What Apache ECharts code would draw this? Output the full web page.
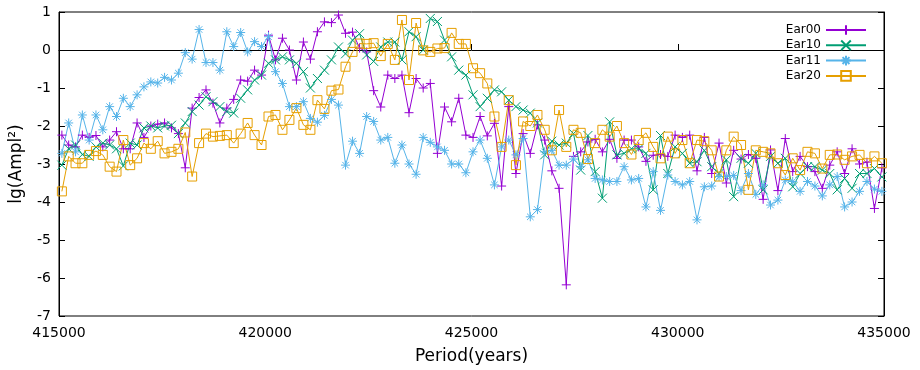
<!DOCTYPE html>
<html>
<head>
<meta charset="utf-8">
<script src="https://cdn.jsdelivr.net/npm/echarts@6/dist/echarts.min.js"></script>
<style>html,body{margin:0;padding:0;background:#fff}#chart{width:920px;height:370px}</style>
</head>
<body>
<div id="chart"></div>
<script>
// Periods (years) of the sampled points
const periods = [
415070,415235,415401,415566,415731,415896,416062,416228,416394,416560,
416726,416893,417059,417226,417393,417559,417727,417894,418061,418228,
418396,418564,418732,418900,419068,419235,419404,419573,419741,419910,
420079,420248,420417,420586,420756,420925,421095,421265,421435,421605,
421775,421946,422116,422287,422458,422628,422800,422971,423142,423314,
423485,423657,423829,424001,424174,424346,424518,424691,424864,425037,
425209,425383,425556,425730,425903,426077,426251,426425,426599,426774,
426948,427123,427298,427472,427647,427822,427998,428173,428349,428525,
428700,428877,429053,429229,429405,429582,429759,429936,430113,430290,
430467,430645,430823,431001,431178,431356,431535,431713,431892,432070,
432249,432428,432607,432787,432966,433145,433325,433505,433685,433865,
434045,434226,434407,434587,434768,434949
];
const ear00 = [
-2.24,-2.5,-2.55,-2.24,-2.3,-2.25,-2.55,-2.37,-2.15,-2.6,-2.6,-1.92,-2.3,-2.0,
-1.95,-1.92,-2.05,-2.2,-3.1,-1.53,-1.25,-1.05,-1.4,-1.92,-1.53,-1.3,-0.79,-0.82,-0.53,
-0.66,0.39,-0.26,0.31,0,-0.79,0.21,-0.24,0.48,0.74,0.72,0.92,0.44,0.47,0.05,
-0.05,-1.07,-1.5,-0.66,-0.75,-0.66,-1.65,-0.75,-1.0,-0.88,-2.72,-1.5,-1.89,-1.27,-2.24,
-2.3,-1.75,-2.26,-1.93,-3.58,-1.49,-3.25,-2.2,-2.72,-1.97,-2.37,-3.18,-3.64,-6.18,
-2.8,-2.68,-2.42,-2.35,-2.68,-2.35,-2.85,-2.37,-2.37,-2.55,-2.93,-2.77,-2.75,-2.8,-2.24,
-2.3,-2.24,-3.18,-2.3,-3.25,-2.45,-3.5,-2.64,-2.87,-2.75,-2.85,-3.93,-2.63,-3.7,
-2.33,-3.2,-2.8,-3.07,-3.2,-3.64,-3.03,-2.68,-3.25,-2.6,-3.0,-2.95,-4.17,-3.1
];
const ear10 = [
-3.03,-2.6,-2.5,-2.75,-2.8,-2.55,-2.45,-2.5,-2.6,-3.05,-2.45,-2.5,-2.05,-2.0,
-2.05,-2.0,-1.98,-2.2,-1.92,-1.62,-1.45,-1.23,-1.36,-1.49,-1.62,-1.66,-1.27,-1.05,-0.79,
-0.66,-0.35,-0.26,-0.18,-0.26,-0.35,-0.57,-1.0,-0.75,-0.53,-0.26,0.08,-0.1,0.26,0.43,
-0.13,-0.3,0.08,0.21,0.21,-0.26,0.48,0.35,0.0,0.83,0.75,0.26,-0.18,-0.53,-0.66,
-1.18,-1.49,-1.27,-1.05,-1.1,-1.32,-1.49,-1.58,-1.66,-1.92,-2.76,-2.4,-2.5,-2.45,
-2.2,-3.16,-2.25,-3.2,-3.9,-1.89,-2.76,-2.72,-2.6,-2.6,-2.72,-3.68,-2.25,-3.25,-2.55,
-2.72,-2.98,-2.94,-2.64,-3.07,-3.25,-2.89,-3.86,-2.85,-2.98,-2.72,-3.68,-2.8,-2.98,
-2.85,-3.6,-3.25,-3.07,-3.07,-3.16,-3.25,-3.68,-3.38,-3.64,-3.25,-3.25,-3.12,-3.34
];
const ear11 = [
-2.72,-1.92,-2.68,-1.71,-2.37,-1.71,-2.1,-1.49,-1.75,-1.27,-1.49,-1.18,-0.97,-0.84,
-0.87,-0.72,-0.79,-0.61,-0.07,-0.24,0.54,-0.33,-0.33,-0.53,0.48,0.09,0.46,-0.05,0.22,
0.09,0.35,-0.57,-0.88,-1.49,-1.49,-1.36,-1.8,-1.9,-1.72,-1.3,-1.45,-3.03,-2.4,-2.72,
-1.75,-1.88,-2.37,-2.3,-2.98,-2.5,-3.0,-3.27,-2.3,-2.43,-2.55,-2.64,-3.0,-3.0,-3.23,
-2.68,-2.37,-2.85,-3.55,-2.55,-2.37,-2.76,-2.33,-4.39,-4.2,-2.68,-2.64,-3.03,-3.03,
-2.87,-3.07,-2.89,-3.38,-3.42,-3.46,-3.46,-3.07,-3.42,-3.38,-4.13,-3.2,-4.22,-3.29,-3.46,
-3.55,-3.46,-4.47,-3.6,-3.58,-3.33,-3.33,-3.3,-3.7,-3.25,-3.8,-3.55,-4.08,-3.95,
-3.42,-3.46,-3.72,-3.46,-3.58,-3.84,-3.55,-3.33,-4.13,-4.0,-3.72,-3.46,-3.66,-3.72
];
const ear20 = [
-3.72,-2.8,-2.98,-2.98,-2.76,-2.66,-2.76,-3.07,-3.2,-2.37,-3.03,-2.85,-2.45,-2.6,
-2.4,-2.72,-2.68,-2.6,-2.17,-3.33,-2.45,-2.2,-2.28,-2.26,-2.24,-2.45,-2.2,-1.92,-2.24,
-2.5,-1.75,-1.71,-2.1,-1.84,-1.53,-1.97,-2.1,-1.32,-1.55,-1.07,-1.04,-0.44,-0.05,0.17,
0.16,0.18,-0.16,0.16,-0.26,0.79,-0.79,0.71,-0.01,-0.05,0.04,0.05,0.45,0.16,0.16,
-0.48,-0.61,-0.88,-1.75,-2.55,-1.32,-3.03,-1.88,-2.0,-1.71,-2.1,-2.64,-1.58,-2.55,
-2.1,-2.18,-2.87,-2.45,-2.1,-2.28,-2.0,-2.45,-2.75,-2.37,-2.18,-2.55,-2.85,-2.28,-2.72,
-2.37,-2.98,-2.37,-2.4,-2.64,-3.33,-2.64,-2.28,-2.5,-3.68,-2.64,-2.68,-2.72,-2.98,
-3.29,-2.85,-3.16,-2.68,-2.72,-3.12,-2.76,-2.75,-2.89,-2.8,-2.76,-2.98,-2.8,-2.98
];
const seriesNames = ['Ear00', 'Ear10', 'Ear11', 'Ear20'];
const seriesValues = [ear00, ear10, ear11, ear20];
const xTicks = [415000, 420000, 425000, 430000, 435000];
const yTicks = [-7, -6, -5, -4, -3, -2, -1, 0, 1];

const colors = ['#9400d3', '#009e73', '#56b4e9', '#e69f00'];
const symbols = [
  'path://M0,-1L0,1M-1,0L1,0',
  'path://M-1,-1L1,1M-1,1L1,-1',
  'path://M0,-1L0,1M-1,0L1,0M-0.72,-0.72L0.72,0.72M-0.72,0.72L0.72,-0.72',
  'path://M-1,-1L1,-1L1,1L-1,1Z'
];
const FONT = 'DejaVu Sans';

const chart = echarts.init(document.getElementById('chart'), null, {renderer: 'canvas'});
const series = seriesNames.map((name, k) => ({
  name: name,
  type: 'line',
  data: periods.map((p, i) => [p, seriesValues[k][i]]),
  symbol: symbols[k],
  symbolSize: 9,
  showAllSymbol: true,
  clip: true,
  lineStyle: {color: colors[k], width: 1},
  itemStyle: {color: 'rgba(0,0,0,0)', borderColor: colors[k], borderWidth: 1},
  emphasis: {disabled: true},
  animation: false
}));

chart.setOption({
  animation: false,
  backgroundColor: '#fff',
  grid: {left: 52, right: 36, top: 12, bottom: 54, show: true, borderColor: '#000', borderWidth: 1, backgroundColor: 'transparent'},
  legend: {
    orient: 'vertical', right: 48, top: 19, align: 'right',
    itemWidth: 40, itemHeight: 12, itemGap: 3.3,
    textStyle: {fontFamily: FONT, fontSize: 12, color: '#000'},
    data: seriesNames
  },
  xAxis: {
    type: 'value', min: xTicks[0], max: xTicks[xTicks.length - 1], interval: 5000,
    name: 'Period(years)', nameLocation: 'middle', nameGap: 32,
    nameTextStyle: {fontFamily: FONT, fontSize: 17, color: '#000'},
    axisLine: {show: true, lineStyle: {color: '#000', width: 1}},
    axisTick: {show: true, inside: true, length: 6, lineStyle: {color: '#000'}},
    axisLabel: {fontFamily: FONT, fontSize: 14, color: '#000', margin: 10, formatter: v => String(v)},
    splitLine: {show: false}
  },
  yAxis: [{
    type: 'value', min: yTicks[0], max: yTicks[yTicks.length - 1], interval: 1,
    name: 'lg(Ampl²)', nameLocation: 'middle', nameGap: 34, nameRotate: 90,
    nameTextStyle: {fontFamily: FONT, fontSize: 17, color: '#000'},
    axisLine: {show: true, lineStyle: {color: '#000', width: 1}},
    axisTick: {show: true, inside: true, length: 6, lineStyle: {color: '#000'}},
    axisLabel: {fontFamily: FONT, fontSize: 14, color: '#000', margin: 8, formatter: v => String(v)},
    splitLine: {show: false}
  }, {
    type: 'value', position: 'right', min: yTicks[0], max: yTicks[yTicks.length - 1], interval: 1,
    axisLine: {show: true, lineStyle: {color: '#000', width: 1}},
    axisTick: {show: true, inside: true, length: 6, lineStyle: {color: '#000'}},
    axisLabel: {show: false},
    splitLine: {show: false}
  }],
  series: series
});
</script>
</body>
</html>
